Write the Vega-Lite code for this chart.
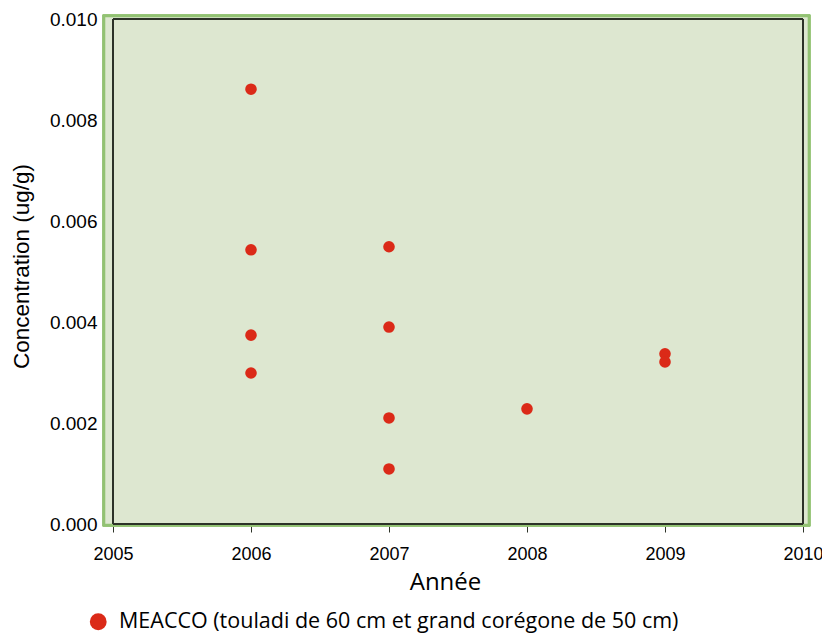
{
  "$schema": "https://vega.github.io/schema/vega-lite/v6.json",
  "width": 690,
  "height": 505,
  "autosize": {"type": "none"},
  "padding": {"left": 113, "top": 19, "right": 19, "bottom": 119},
  "background": "white",
  "config": {
    "view": {"fill": null, "stroke": null},
    "axis": {
      "grid": false,
      "zindex": 2,
      "domainColor": "#2d3328",
      "tickColor": "#2d3328",
      "labelColor": "#000000",
      "titleColor": "#000000",
      "titleFontWeight": "normal",
      "labelFlush": false
    },
    "axisX": {
      "tickSize": 8,
      "labelFont": "Liberation Sans",
      "labelFontSize": 18,
      "labelPadding": 13,
      "titleFont": "Open Sans",
      "titleFontSize": 24,
      "titleX": 332,
      "titleY": 65,
      "titleAlign": "center",
      "titleBaseline": "alphabetic"
    },
    "axisY": {
      "tickSize": 7,
      "labelFont": "Liberation Sans",
      "labelFontSize": 19,
      "labelPadding": 9,
      "titleFont": "Liberation Sans",
      "titleFontSize": 22.5,
      "titleX": -85,
      "titleY": 247,
      "titleAngle": -90,
      "titleAlign": "center",
      "titleBaseline": "alphabetic"
    }
  },
  "data": {
    "values": [
      {"annee": 2006, "conc": 0.00861, "serie": "MEACCO (touladi de 60 cm et grand corégone de 50 cm)"},
      {"annee": 2006, "conc": 0.00543, "serie": "MEACCO (touladi de 60 cm et grand corégone de 50 cm)"},
      {"annee": 2006, "conc": 0.00374, "serie": "MEACCO (touladi de 60 cm et grand corégone de 50 cm)"},
      {"annee": 2006, "conc": 0.00299, "serie": "MEACCO (touladi de 60 cm et grand corégone de 50 cm)"},
      {"annee": 2007, "conc": 0.00549, "serie": "MEACCO (touladi de 60 cm et grand corégone de 50 cm)"},
      {"annee": 2007, "conc": 0.0039, "serie": "MEACCO (touladi de 60 cm et grand corégone de 50 cm)"},
      {"annee": 2007, "conc": 0.0021, "serie": "MEACCO (touladi de 60 cm et grand corégone de 50 cm)"},
      {"annee": 2007, "conc": 0.00109, "serie": "MEACCO (touladi de 60 cm et grand corégone de 50 cm)"},
      {"annee": 2008, "conc": 0.00228, "serie": "MEACCO (touladi de 60 cm et grand corégone de 50 cm)"},
      {"annee": 2009, "conc": 0.00337, "serie": "MEACCO (touladi de 60 cm et grand corégone de 50 cm)"},
      {"annee": 2009, "conc": 0.00321, "serie": "MEACCO (touladi de 60 cm et grand corégone de 50 cm)"}
    ]
  },
  "layer": [
    {
      "mark": {"type": "rect", "fill": "#dde7d0", "stroke": "#92c273", "strokeWidth": 2.5, "clip": false},
      "encoding": {
        "x": {"datum": 2004.935, "type": "quantitative", "scale": {"domain": [2005, 2010], "nice": false, "zero": false}, "axis": {"title": "Année", "values": [2005, 2006, 2007, 2008, 2009, 2010], "format": "d"}},
        "x2": {"datum": 2010.043},
        "y": {"datum": -0.00002, "type": "quantitative", "scale": {"domain": [0, 0.01], "nice": false}, "axis": {"title": "Concentration (ug/g)", "values": [0, 0.002, 0.004, 0.006, 0.008, 0.01], "format": ".3f"}},
        "y2": {"datum": 0.01006}
      }
    },
    {
      "mark": {"type": "rect", "fill": null, "fillOpacity": 0, "stroke": "#2d3328", "strokeWidth": 1, "clip": false},
      "encoding": {
        "x": {"datum": 2005, "type": "quantitative", "axis": {"title": "Année", "values": [2005, 2006, 2007, 2008, 2009, 2010], "format": "d"}},
        "x2": {"datum": 2010},
        "y": {"datum": 0, "type": "quantitative", "axis": {"title": "Concentration (ug/g)", "values": [0, 0.002, 0.004, 0.006, 0.008, 0.01], "format": ".3f"}},
        "y2": {"datum": 0.01}
      }
    },
    {
      "mark": {"type": "point", "filled": true, "shape": "circle", "size": 135, "opacity": 1},
      "encoding": {
        "x": {"field": "annee", "type": "quantitative", "axis": {"title": "Année", "values": [2005, 2006, 2007, 2008, 2009, 2010], "format": "d"}},
        "y": {"field": "conc", "type": "quantitative", "axis": {"title": "Concentration (ug/g)", "values": [0, 0.002, 0.004, 0.006, 0.008, 0.01], "format": ".3f"}},
        "color": {
          "field": "serie",
          "type": "nominal",
          "scale": {"range": ["#db2a18"]},
          "legend": {
            "title": null,
            "orient": "none",
            "legendX": -25.5,
            "legendY": 592,
            "symbolType": "circle",
            "symbolSize": 283,
            "symbolStrokeWidth": 0,
            "labelFont": "Open Sans",
            "labelFontSize": 21.5,
            "labelColor": "#000000",
            "labelLimit": 750,
            "labelOffset": 10,
            "encode": {"symbols": {"update": {"fill": {"value": "#ff0000"}, "stroke": {"value": "#ff0000"}}}}
          }
        }
      }
    }
  ]
}
